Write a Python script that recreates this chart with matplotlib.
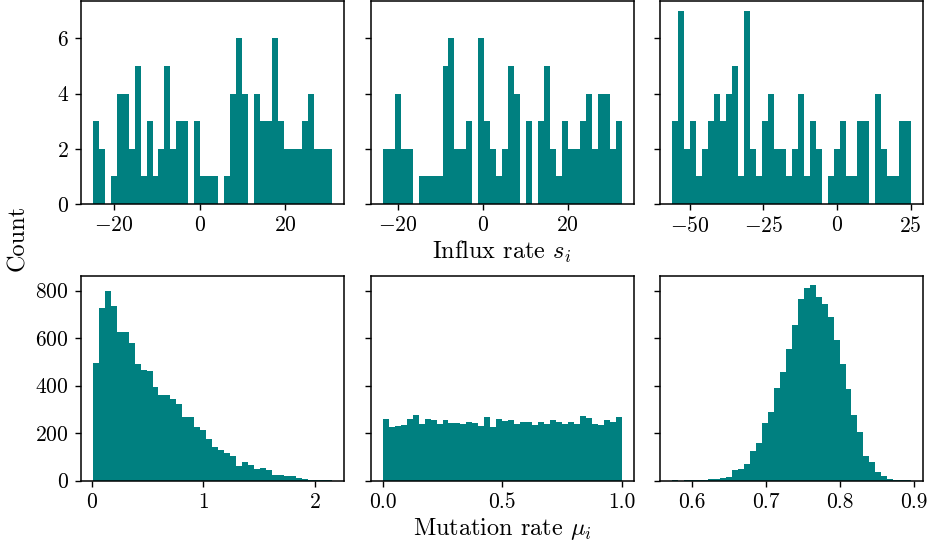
import numpy as np
import matplotlib
matplotlib.use("Agg")
import matplotlib.pyplot as plt

plt.rcParams['font.family'] = 'serif'
plt.rcParams['font.serif'] = ['cmr10']
plt.rcParams['mathtext.fontset'] = 'cm'
plt.rcParams['axes.formatter.use_mathtext'] = True
plt.rcParams['axes.unicode_minus'] = True

# ---- data: bin ranges (40 bins each) and counts ----
influx_a_range = (-25.0, 30.9)
influx_a_counts = [3, 2, 0, 1, 4, 4, 2, 5, 1, 3, 1, 2, 5, 2, 3, 3, 0, 3, 1, 1,
                   1, 0, 1, 4, 6, 4, 0, 4, 3, 3, 6, 3, 2, 2, 2, 3, 4, 2, 2, 2]

influx_b_range = (-23.5, 32.8)
influx_b_counts = [2, 2, 4, 2, 2, 0, 1, 1, 1, 1, 5, 6, 2, 2, 3, 0, 6, 3, 2, 1,
                   2, 5, 4, 0, 3, 0, 3, 5, 2, 1, 3, 2, 2, 3, 4, 2, 4, 4, 2, 3]

influx_c_range = (-56.05, 25.25)
influx_c_counts = [3, 7, 2, 3, 1, 2, 3, 4, 3, 4, 5, 1, 7, 2, 1, 3, 4, 2, 2, 1,
                   2, 4, 1, 3, 2, 0, 1, 2, 3, 1, 1, 3, 3, 0, 4, 2, 1, 1, 3, 3]

mut_a_range = (0.005, 2.154)
mut_a_counts = [495, 727, 800, 737, 624, 624, 581, 492, 467, 463,
                395, 361, 361, 345, 323, 270, 270, 228, 214, 176,
                142, 129, 117, 104, 62, 79, 66, 49, 53, 45,
                24, 24, 20, 20, 11, 7, 4, 4, 3, 2]

mut_b_range = (0.0, 1.0)
mut_b_counts = [260, 228, 232, 235, 260, 276, 239, 260, 256, 239,
                256, 243, 243, 239, 246, 243, 232, 269, 228, 260,
                253, 256, 239, 246, 246, 235, 246, 239, 256, 249,
                239, 246, 239, 273, 264, 239, 235, 256, 249, 269]

mut_c_range = (0.573, 0.8965)
mut_c_counts = [1, 0, 1, 1, 2, 2, 6, 6, 11, 15,
                45, 49, 72, 125, 159, 243, 290, 392, 458, 556,
                657, 767, 812, 822, 775, 745, 691, 591, 492, 384,
                277, 205, 104, 79, 37, 18, 7, 3, 1, 1]

n_bins = 40
top_yticks = [0, 2, 4, 6]
bottom_yticks = [0, 200, 400, 600, 800]
xticks = [[-20, 0, 20], [-20, 0, 20], [-50, -25, 0, 25],
          [0, 1, 2], [0.0, 0.5, 1.0], [0.6, 0.7, 0.8, 0.9]]
xticklabels = [None, None, None, None, ['0.0', '0.5', '1.0'], ['0.6', '0.7', '0.8', '0.9']]

panels = [(influx_a_range, influx_a_counts), (influx_b_range, influx_b_counts),
          (influx_c_range, influx_c_counts), (mut_a_range, mut_a_counts),
          (mut_b_range, mut_b_counts), (mut_c_range, mut_c_counts)]

color = '#008080'
FS = 15.5
LFS = 17.5
fig = plt.figure(figsize=(9.27, 5.48), dpi=100)
W, H = 927.0, 548.0
lefts = [80.7, 370.7, 660.0]
width = 263.3
tops = [1.0, 275.7]
heights = [203.0, 205.0]

axes = []
for r in range(2):
    row = []
    for c in range(3):
        rect = [lefts[c] / W, 1 - (tops[r] + heights[r]) / H, width / W, heights[r] / H]
        sharey = row[0] if c > 0 else None
        ax = fig.add_axes(rect, sharey=sharey)
        row.append(ax)
    axes.append(row)

for i, (rng, counts) in enumerate(panels):
    ax = axes[i // 3][i % 3]
    edges = np.linspace(rng[0], rng[1], n_bins + 1)
    ax.hist(edges[:-1], bins=edges, weights=counts, color=color)
    ax.set_xticks(xticks[i])
    if xticklabels[i] is not None:
        ax.set_xticklabels(xticklabels[i])
    ax.tick_params(labelsize=FS, direction='out', length=4.5, width=1.0, pad=4)
    for s in ax.spines.values():
        s.set_linewidth(1.1)
    if i % 3 != 0:
        ax.tick_params(labelleft=False)

axes[0][0].set_yticks(top_yticks)
axes[1][0].set_yticks(bottom_yticks)

fig.text(18 / W, 1 - 238 / H, 'Count', rotation=90, ha='center', va='center', fontsize=LFS)
fig.text(502 / W, 1 - 252 / H, r'Influx rate $s_i$', ha='center', va='center', fontsize=LFS)
fig.text(502 / W, 1 - 529 / H, r'Mutation rate $\mu_i$', ha='center', va='center', fontsize=LFS)

fig.savefig('out.png', dpi=100)
